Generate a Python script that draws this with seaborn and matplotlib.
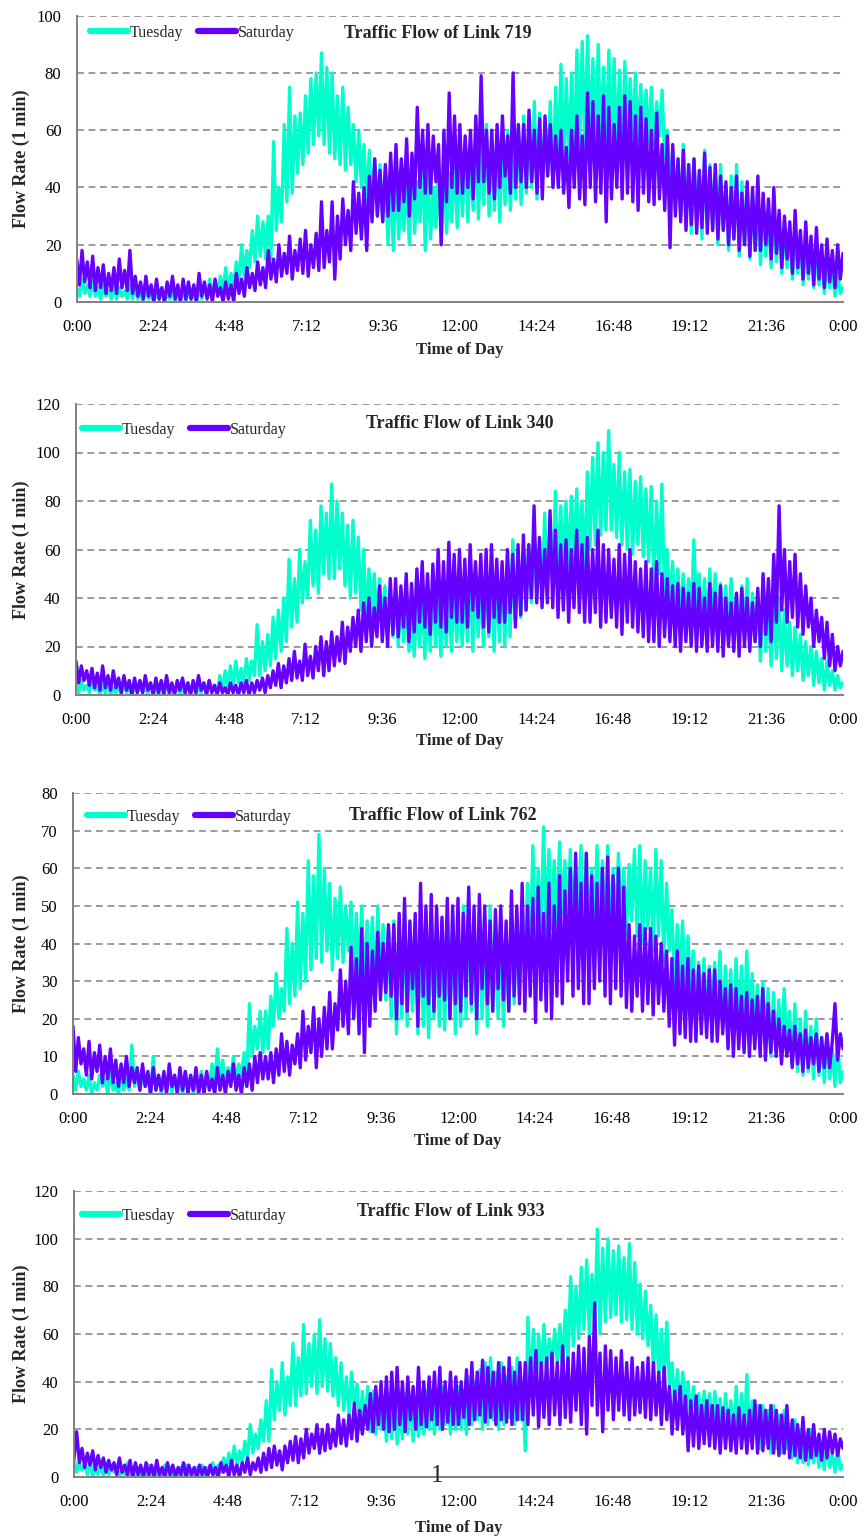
import numpy as np
import pandas as pd
import matplotlib
matplotlib.use('Agg')
import matplotlib.pyplot as plt
import seaborn as sns
from matplotlib.lines import Line2D

sns.set_style('white')
plt.rcParams['font.family'] = ['Liberation Serif', 'DejaVu Serif']

# ---------------- data (flow rate per minute, read every 5 minutes) ----------------
minutes = list(range(0, 1441, 5))
tick_minutes = [0, 144, 288, 432, 576, 720, 864, 1008, 1152, 1296, 1440]
tick_labels = ['0:00', '2:24', '4:48', '7:12', '9:36', '12:00', '14:24', '16:48', '19:12', '21:36', '0:00']
links = ['719', '340', '762', '933']
y_max = [100, 120, 80, 120]
y_step = [20, 20, 10, 20]

tuesday_719 = [
    5,2,8,3,6,2,7,2,5,1,6,2,4,1,6,1,5,2,4,1,6,1,5,1,
    4,0,5,1,3,0,4,1,5,0,3,1,4,0,3,1,5,0,4,1,3,0,5,1,
    6,2,8,3,7,4,9,4,12,5,10,6,14,8,20,9,18,12,25,14,30,16,28,15,
    30,15,56,25,40,28,62,35,75,38,65,45,66,48,72,52,78,55,80,58,87,55,82,52,
    80,50,72,48,75,46,68,48,62,42,60,40,55,35,53,32,50,30,48,28,46,20,44,18,
    46,22,40,25,44,20,48,24,42,28,50,18,45,22,40,26,48,20,52,24,45,28,50,26,
    50,30,55,28,52,32,60,29,58,34,62,30,55,32,58,28,56,34,60,32,55,36,60,34,
    65,38,60,40,70,36,66,42,62,45,70,40,75,48,83,45,78,50,80,48,88,52,91,53,
    93,55,85,50,90,52,82,55,88,50,85,52,81,50,84,55,78,58,80,56,76,57,74,55,
    75,55,70,58,74,50,60,40,53,35,50,30,55,28,48,24,50,30,45,22,53,28,48,25,
    45,20,48,25,40,18,44,22,48,16,42,20,40,15,38,18,35,13,36,16,32,12,34,14,
    30,10,28,12,25,8,26,10,22,6,24,8,20,5,18,6,16,3,15,5,12,2,10,3,
    5]
saturday_719 = [
    15,6,18,7,14,5,16,4,12,5,13,3,10,4,12,3,15,5,11,4,18,3,9,2,
    7,1,9,2,6,0,8,1,5,0,7,2,9,1,6,0,8,1,7,1,6,0,10,2,
    7,1,6,0,8,2,5,0,7,1,6,0,10,3,8,2,12,5,10,4,14,6,12,5,
    18,8,15,7,20,9,17,10,23,8,18,11,22,10,25,9,20,12,24,11,35,12,25,14,
    35,8,30,15,36,20,32,18,42,24,38,22,40,18,44,28,50,30,46,28,48,30,52,32,
    55,32,50,35,57,30,52,36,68,40,60,38,62,38,58,42,55,20,60,35,73,40,65,38,
    62,38,58,40,60,36,65,42,79,42,60,38,60,36,62,40,65,44,58,38,80,40,62,42,
    62,40,67,42,60,38,64,36,65,44,62,40,58,40,60,38,54,33,60,40,65,36,58,34,
    73,40,70,35,65,38,72,28,68,36,62,40,68,36,72,38,70,35,65,32,68,38,64,35,
    60,34,66,36,55,32,58,19,55,30,50,28,53,25,48,27,50,24,46,26,52,24,47,25,
    48,22,44,25,42,20,40,22,44,18,38,20,42,16,40,18,44,18,38,20,36,15,40,17,
    32,12,30,15,28,10,32,12,25,8,28,10,23,6,26,8,20,5,22,7,18,5,20,8,
    17]
tuesday_340 = [
    5,1,6,2,4,1,5,2,3,0,4,1,5,0,3,1,4,0,5,1,3,0,4,1,
    4,1,3,0,5,1,3,0,4,1,5,0,3,1,4,0,3,0,5,1,4,0,3,1,
    5,1,6,2,4,1,8,2,10,3,12,4,14,5,11,4,15,6,14,8,29,8,22,10,
    25,12,32,15,35,18,40,22,56,28,48,30,60,38,55,40,72,45,68,42,78,50,75,48,
    87,48,80,52,75,45,70,40,72,42,65,35,60,30,52,32,50,28,48,30,45,26,42,24,
    42,20,38,22,40,18,35,16,38,20,42,15,40,18,45,20,38,16,42,20,40,18,45,22,
    48,20,45,22,50,18,52,24,46,20,55,24,50,18,48,22,50,20,55,24,64,30,58,32,
    60,35,62,38,66,40,60,42,75,45,70,48,84,50,78,52,80,52,82,55,85,55,80,50,
    92,60,98,62,104,66,100,68,109,68,95,65,100,62,92,60,93,58,88,62,90,57,85,55,
    86,45,80,50,87,40,60,35,55,32,52,30,50,30,48,32,64,35,50,30,48,28,52,30,
    50,26,46,28,45,24,48,25,42,22,45,26,48,20,42,22,40,14,44,18,38,12,40,15,
    40,10,35,12,30,8,28,10,25,6,22,8,20,4,18,5,15,2,14,4,10,2,8,3,
    5]
saturday_340 = [
    14,5,12,6,10,4,11,3,9,2,12,3,8,2,10,3,7,1,8,2,6,0,7,1,
    6,1,8,2,5,0,7,1,6,0,8,1,5,0,6,2,7,1,5,0,6,1,8,2,
    5,0,6,1,4,0,5,1,3,0,5,1,4,0,5,1,6,0,5,1,6,2,7,1,
    8,3,10,4,13,3,12,5,15,6,18,7,14,6,21,8,16,7,20,10,24,8,22,10,
    26,12,24,14,30,13,28,18,32,20,35,18,38,22,40,20,36,24,45,22,40,20,48,25,
    48,24,45,28,50,22,46,26,52,30,55,28,50,25,54,30,60,28,55,26,63,32,58,30,
    60,30,56,28,62,35,55,32,58,28,60,26,62,32,56,30,55,30,60,34,58,28,62,33,
    66,35,62,40,78,38,65,36,60,38,76,36,68,32,62,35,64,30,60,36,68,34,62,30,
    65,30,60,34,68,28,62,30,60,32,56,28,62,25,58,30,60,28,55,26,52,24,55,22,
    52,22,55,20,50,24,48,22,45,20,46,18,44,22,42,20,46,18,44,20,40,18,46,20,
    42,18,45,16,40,20,38,18,42,16,44,20,40,18,38,22,44,20,50,25,48,22,58,30,
    78,35,60,30,55,32,58,28,50,25,45,28,40,20,35,22,32,15,30,12,25,10,20,12,
    18]
tuesday_762 = [
    5,1,6,2,4,1,5,0,3,1,5,2,4,0,6,1,3,0,5,1,4,1,13,2,
    6,1,5,2,4,0,10,1,5,0,4,1,6,0,5,1,4,0,6,1,5,0,4,1,
    6,1,5,2,8,3,12,4,9,3,7,4,10,3,8,5,11,4,24,10,18,12,22,11,
    22,12,26,18,32,20,28,22,44,24,40,26,51,28,48,30,62,33,58,36,69,35,60,38,
    56,33,52,36,55,35,50,38,51,30,48,32,50,27,46,30,47,28,50,30,45,25,44,20,
    46,16,42,20,48,18,40,22,44,16,46,18,42,15,48,20,44,18,46,17,42,20,48,16,
    45,18,50,20,53,22,46,16,48,20,44,18,50,22,42,20,46,18,40,22,44,24,48,26,
    50,32,56,36,66,38,60,40,71,42,65,44,62,45,67,48,62,44,65,46,60,48,66,44,
    64,40,60,44,66,45,62,42,66,40,60,44,64,45,60,42,61,46,65,42,66,40,62,44,
    60,38,65,42,62,35,56,38,49,28,45,30,46,26,42,28,38,20,35,22,36,18,34,20,
    35,16,38,18,34,20,33,15,36,18,34,16,38,15,32,17,29,12,30,14,28,10,27,12,
    25,10,28,12,22,8,24,6,20,5,22,6,18,4,20,5,15,3,16,4,12,2,14,3,
    6]
saturday_762 = [
    18,6,15,8,12,5,14,4,11,6,13,3,10,4,12,3,9,2,8,3,10,2,7,3,
    7,1,8,2,6,0,7,1,5,1,6,0,8,2,5,0,7,1,6,0,5,1,7,0,
    5,0,6,1,4,0,7,1,5,0,6,2,8,1,5,0,7,2,8,1,10,3,11,4,
    10,4,11,3,12,5,16,6,14,5,13,8,16,7,22,9,18,11,23,7,20,10,23,12,
    27,12,24,17,33,18,30,16,39,20,36,16,44,11,40,18,38,22,43,25,40,27,45,26,
    45,20,48,24,52,22,46,28,48,18,56,26,50,24,53,22,50,26,47,25,52,20,50,24,
    52,22,48,26,55,24,50,20,53,28,50,24,46,22,49,28,50,25,46,22,54,26,50,24,
    56,22,50,26,52,19,55,25,48,22,56,20,50,26,58,24,54,30,60,26,64,28,56,24,
    64,24,58,28,56,30,60,26,63,24,58,28,60,26,55,23,45,22,42,26,45,22,44,24,
    44,21,42,24,40,22,38,18,36,13,38,16,34,15,36,14,33,14,34,16,32,15,33,14,
    33,14,30,16,28,12,29,10,28,12,26,11,27,10,25,12,26,10,28,9,24,11,22,10,
    20,8,18,10,17,7,18,8,16,6,17,7,15,8,16,6,15,7,16,7,14,24,9,16,
    12]
tuesday_933 = [
    8,2,6,3,5,1,7,0,4,1,5,0,6,1,4,2,5,0,3,1,6,0,4,1,
    4,0,3,1,5,0,4,1,3,0,5,1,4,0,3,1,4,0,5,1,3,0,4,1,
    5,1,4,2,6,1,5,2,8,3,10,4,13,5,11,6,15,8,22,10,18,12,24,15,
    32,15,45,24,40,28,48,26,42,30,56,30,50,34,64,35,56,38,60,35,66,38,58,36,
    56,34,50,30,48,28,42,26,44,30,39,20,36,22,38,19,36,18,32,20,34,15,30,16,
    34,14,30,16,35,18,32,15,33,17,30,18,36,20,34,18,35,20,38,22,34,18,36,20,
    38,20,36,18,42,22,40,24,45,20,48,22,50,24,44,20,48,22,42,25,46,22,50,24,
    40,11,67,35,62,38,60,42,64,45,58,46,62,48,64,45,70,48,84,55,80,58,88,62,
    91,60,85,62,104,60,96,65,100,67,95,68,97,65,92,66,98,62,90,60,81,58,78,55,
    72,45,68,42,62,40,65,38,48,30,45,28,44,28,40,25,38,26,35,20,36,22,35,20,
    36,20,33,18,35,20,32,16,38,18,35,16,43,15,32,18,30,12,30,14,28,10,30,12,
    26,10,28,12,22,8,24,6,20,6,18,5,20,6,16,4,14,3,15,4,10,2,12,3,
    5]
saturday_933 = [
    8,19,6,12,4,10,5,11,3,9,4,8,2,7,3,6,1,8,2,5,1,7,0,6,
    1,5,0,6,1,5,0,7,1,4,0,6,1,5,0,4,1,6,0,5,1,4,0,5,
    1,4,0,5,1,4,0,6,2,5,0,7,1,5,0,6,2,8,1,6,3,8,2,10,
    3,12,4,13,5,11,3,13,6,15,7,17,6,16,8,20,10,18,12,22,10,20,11,22,
    12,20,13,26,14,24,13,26,16,31,15,28,18,30,20,35,19,38,22,40,20,42,19,44,
    20,46,22,40,19,42,24,38,20,46,22,40,21,42,24,44,22,46,20,40,23,44,22,42,
    22,40,25,45,22,48,24,44,26,49,23,46,25,44,22,48,24,46,23,50,22,44,24,48,
    24,48,22,50,26,53,21,48,25,50,22,52,26,48,22,55,25,50,23,52,28,55,22,54,
    18,59,30,73,26,52,19,55,28,53,24,50,28,53,26,48,24,50,26,46,27,48,25,50,
    24,48,26,44,22,46,24,38,18,36,20,38,18,34,11,32,13,34,12,30,14,32,13,30,
    12,30,10,29,12,28,11,26,10,29,12,26,10,28,12,32,10,30,11,28,12,30,10,28,
    9,26,10,30,8,24,9,22,8,25,7,20,8,22,9,18,7,20,8,19,10,18,9,16,
    12]

tuesday = [tuesday_719, tuesday_340, tuesday_762, tuesday_933]
saturday = [saturday_719, saturday_340, saturday_762, saturday_933]
for name, s in zip(['t719', 's719', 't340', 's340', 't762', 's762', 't933', 's933'],
                   [v for pair in zip(tuesday, saturday) for v in pair]):
    if len(s) != len(minutes):
        raise ValueError(f'{name} has {len(s)} values, expected {len(minutes)}')

# ---------------- layout (pixels) ----------------
W, H = 866, 1540
CYAN = '#00FFCC'
PURPLE = '#6600FF'
GRAY = '#808080'

axes_px = [(76.7, 15.7, 843, 302), (76, 404, 843, 695), (73, 793, 843, 1094), (74, 1191, 843, 1477)]
title_px = [(438, 33), (460, 423), (443, 816), (451, 1212)]
legend_px = [(90, 33), (82, 430), (87, 817), (82, 1216)]
xlabel_py = [350, 741, 1141, 1528]

fig = plt.figure(figsize=(W / 100, H / 100), dpi=100)
fig.patch.set_facecolor('white')

for k in range(4):
    l, t, r, b = axes_px[k]
    ax = fig.add_axes([l / W, 1 - b / H, (r - l) / W, (b - t) / H])
    df = pd.DataFrame({
        'minute': minutes + minutes,
        'flow': tuesday[k] + saturday[k],
        'day': ['Tuesday'] * len(minutes) + ['Saturday'] * len(minutes),
    })
    sns.lineplot(data=df, x='minute', y='flow', hue='day', hue_order=['Tuesday', 'Saturday'],
                 palette={'Tuesday': CYAN, 'Saturday': PURPLE}, linewidth=2.4,
                 estimator=None, sort=False, legend=False, ax=ax)
    ax.set_xlim(0, 1440)
    ax.set_ylim(0, y_max[k])
    ax.set_xticks(tick_minutes)
    ax.set_xticklabels(tick_labels)
    yt = list(range(0, y_max[k] + 1, y_step[k]))
    ax.set_yticks(yt)
    ax.set_yticklabels([str(v) for v in yt])
    ax.tick_params(axis='both', labelsize=12, colors=GRAY, labelcolor='black',
                   direction='out', length=5, width=1.2, pad=6)
    ax.tick_params(axis='x', pad=7)
    for s in ['top', 'right']:
        ax.spines[s].set_visible(False)
    for s in ['left', 'bottom']:
        ax.spines[s].set_color(GRAY)
        ax.spines[s].set_linewidth(1.4)
    ax.set_axisbelow(True)
    for v in yt[1:]:
        ax.axhline(v, color=GRAY, linestyle=(0, (4.5, 3)), linewidth=1.1, zorder=0.5)
    ax.set_xlabel('')
    ax.set_ylabel('Flow Rate (1 min)', fontsize=13, fontweight='bold')
    ax.yaxis.set_label_coords((30 - l) / (r - l), 0.5)

    tx, ty = title_px[k]
    fig.text(tx / W, 1 - ty / H, 'Traffic Flow of Link ' + links[k], ha='center', va='center',
             fontsize=13, fontweight='bold')
    fig.text(((l + r) / 2) / W, 1 - xlabel_py[k] / H, 'Time of Day', ha='center', va='center',
             fontsize=12, fontweight='bold')
    handles = [Line2D([0], [0], color=CYAN, lw=4.5, solid_capstyle='round'),
               Line2D([0], [0], color=PURPLE, lw=4.5, solid_capstyle='round')]
    lx, ly = legend_px[k]
    ax.legend(handles, ['Tuesday', 'Saturday'], loc='center left',
              bbox_to_anchor=(lx / W, 1 - ly / H), bbox_transform=fig.transFigure,
              frameon=False, ncol=2, fontsize=11.5, handlelength=2.4, handletextpad=0.1,
              columnspacing=0.9, borderpad=0, borderaxespad=0)

# page number from the source document
fig.text(437 / W, 1 - 1476 / H, '1', ha='center', va='center', fontsize=18)

fig.savefig('out.png', dpi=100, facecolor='white')
